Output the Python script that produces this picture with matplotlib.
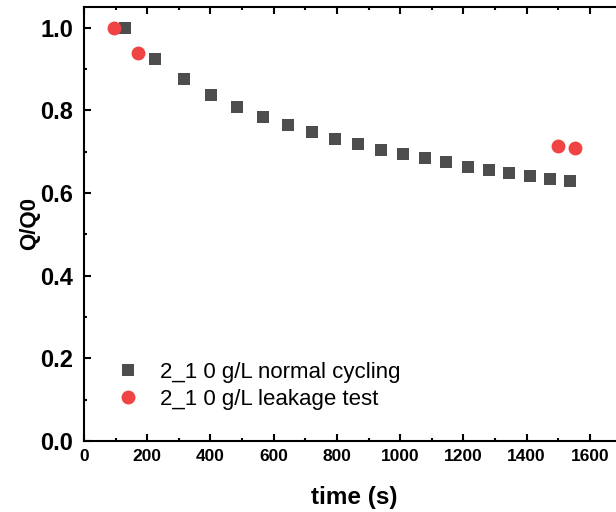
import numpy as np
import matplotlib
matplotlib.use("Agg")
import matplotlib.pyplot as plt
from matplotlib.ticker import MultipleLocator

# normal cycling
t_normal = [130, 225, 317, 403, 485, 566, 644, 720, 794, 867,
            938, 1009, 1078, 1146, 1213, 1280, 1345, 1410, 1475, 1538]
q_normal = [0.999, 0.923, 0.875, 0.838, 0.809, 0.785, 0.764, 0.747, 0.730, 0.718,
            0.705, 0.694, 0.684, 0.674, 0.664, 0.656, 0.649, 0.642, 0.634, 0.629]

# leakage test
t_leak = [96, 172, 1498, 1553]
q_leak = [1.0, 0.939, 0.714, 0.708]

label_normal = "2_1 0 g/L normal cycling"
label_leak = "2_1 0 g/L leakage test"

plt.rcParams['font.family'] = ['Liberation Sans', 'DejaVu Sans']

fig = plt.figure(figsize=(6.16, 5.12), dpi=100)
ax = fig.add_axes([84 / 616, 71 / 512, 540 / 616, 434 / 512])

ax.plot(t_normal, q_normal, 's', color='#4d4d4d', markersize=8.6, markeredgewidth=0,
        label=label_normal, clip_on=False)
ax.plot(t_leak, q_leak, 'o', color='#f04343', markersize=10, markeredgewidth=0,
        label=label_leak, clip_on=False)

ax.set_xlim(0, 1708)
ax.set_ylim(0, 1.05)
ax.xaxis.set_major_locator(MultipleLocator(200))
ax.xaxis.set_minor_locator(MultipleLocator(100))
ax.yaxis.set_major_locator(MultipleLocator(0.2))
ax.yaxis.set_minor_locator(MultipleLocator(0.1))
ax.yaxis.set_major_formatter(matplotlib.ticker.FormatStrFormatter('%.1f'))

ax.tick_params(which='both', direction='in', top=True, right=True, width=1.5)
ax.tick_params(which='major', length=5)
ax.tick_params(which='minor', length=2.5)
ax.tick_params(axis='y', labelsize=17, pad=8)
ax.tick_params(axis='x', labelsize=12.5, pad=6)
for lab in ax.get_xticklabels() + ax.get_yticklabels():
    lab.set_fontweight('bold')
for sp in ax.spines.values():
    sp.set_linewidth(1.5)

ax.set_xlabel("time (s)", fontsize=17.5, fontweight='bold', labelpad=15.5)
ax.set_ylabel("Q/Q0", fontsize=16, fontweight='bold', labelpad=0)

ax.legend(loc='lower left', bbox_to_anchor=(0.015, 0.02), frameon=False,
          fontsize=16, handletextpad=0.87, labelspacing=0.27, borderpad=0.5,
          handlelength=1.2)

fig.savefig("out.png", dpi=100)
